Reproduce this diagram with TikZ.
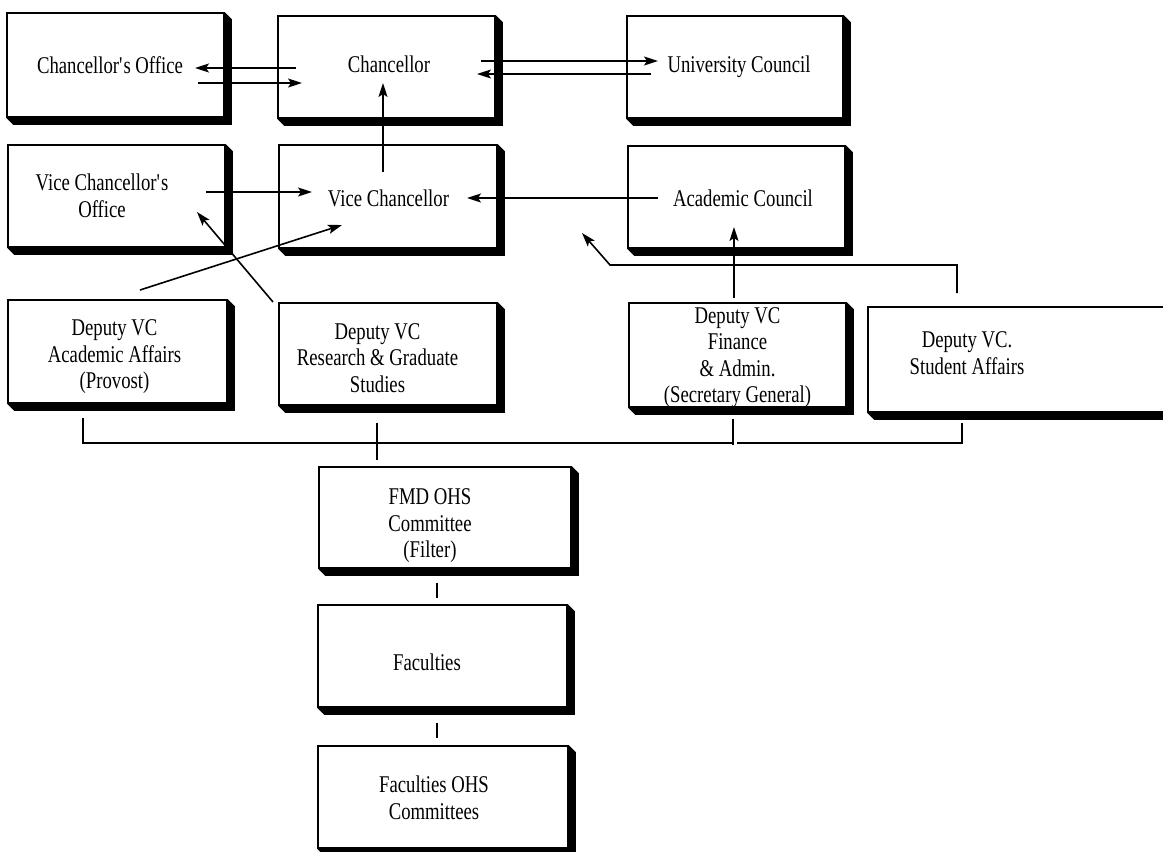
\documentclass[tikz,border=0pt]{standalone}
\usepackage{fontspec}
\setmainfont{Liberation Serif}[FakeStretch=0.78]
\usetikzlibrary{calc,arrows.meta}
\begin{document}
\begin{tikzpicture}[x=1pt,y=-1pt,
  box/.style={draw=black, line width=1.6pt, fill=white, inner sep=0pt},
  txt/.style={align=center, inner sep=0pt, font=\fontsize{24}{26.5}\selectfont},
  conn/.style={line width=1.4pt},
  arr/.style={line width=1.6pt, -{Stealth[length=14pt,width=9pt,inset=3pt]}}]
\useasboundingbox (0,0) rectangle (1163,852);
% boxes
\node[box, minimum width=217pt, minimum height=104pt] (co) at (115.5,65) {};
\node[box, minimum width=217pt, minimum height=102pt] (ch) at (386.5,67) {};
\node[box, minimum width=216pt, minimum height=102pt] (uc) at (735,67) {};
\node[box, minimum width=217pt, minimum height=102pt] (vco) at (116.5,196) {};
\node[box, minimum width=218pt, minimum height=103pt] (vc) at (388,196.5) {};
\node[box, minimum width=217pt, minimum height=102pt] (ac) at (736.5,197) {};
\node[box, minimum width=219pt, minimum height=103pt] (d1) at (117.5,351.5) {};
\node[box, minimum width=218pt, minimum height=102pt] (d2) at (388,354) {};
\node[box, minimum width=217pt, minimum height=104pt] (d3) at (737.5,355) {};
\node[box, minimum width=307pt, minimum height=105pt] (d4) at (1021.5,359.5) {};
\node[box, minimum width=252pt, minimum height=101pt] (fmd) at (445,517.5) {};
\node[box, minimum width=249pt, minimum height=102pt] (fac) at (442.5,656) {};
\node[box, minimum width=250pt, minimum height=102pt] (foc) at (443,797) {};
% shadows
\foreach \n in {co,ch,uc,vco,vc,ac,d1,d2,d3,d4,fmd,fac,foc}{
  \fill[black] (\n.north east) -- ++(7,7) -- ($(\n.south east)+(7,7)$)
     -- ($(\n.south west)+(7,7)$) -- (\n.south west) -- (\n.south east) -- cycle;
}
% texts
\node[txt] (cot) at (110,65) {Chancellor\textquotesingle s Office};
\node[txt] (cht) at (389,64) {Chancellor};
\node[txt] (uct) at (739,67) {University Council};
\node[txt] (vcot) at (102,196) {Vice Chancellor\textquotesingle s\\Office};
\node[txt] (vct) at (388.5,198) {Vice Chancellor};
\node[txt] (act) at (743,198) {Academic Council};
\node[txt] (d1t) at (114.5,357) {Deputy VC\\Academic Affairs\\(Provost)};
\node[txt] (d2t) at (377.5,358) {Deputy VC\\Research \& Graduate\\Studies};
\node[txt] (d3t) at (737.5,357.5) {Deputy VC\\Finance\\\& Admin.\\(Secretary General)};
\node[txt] (d4t) at (967,353) {Deputy VC.\\Student Affairs};
\node[txt] (fmdt) at (430,526) {FMD OHS\\Committee\\(Filter)};
\node[txt] (fact) at (427,662) {Faculties};
\node[txt] (foct) at (434,798) {Faculties OHS\\Committees};
% connectors
\draw[arr] ($(ch)+(-90.5,1)$) -- ($(co)+(79.5,3)$);
\draw[arr] ($(co)+(82.5,18)$) -- ($(ch)+(-84.5,16)$);
\draw[arr] ($(ch)+(94.5,-6)$) -- ($(uc)+(-77,-6)$);
\draw[arr] ($(uc)+(-84,7)$) -- ($(ch)+(90.5,7)$);
\draw[arr] ($(vc)+(-5,-24.5)$) -- ($(ch)+(-3.5,16)$);
\draw[arr] ($(vco)+(89.5,-4)$) -- ($(vc)+(-76,-4.5)$);
\draw[arr] ($(ac)+(-78.5,1)$) -- ($(vc)+(79,1.5)$);
\draw[arr] ($(d1)+(22.5,-61.5)$) -- ($(vc)+(-46,28.5)$);
\draw[arr] ($(d2)+(-115,-52)$) -- ($(vco)+(80.5,16)$);
\draw[arr] ($(d4)+(-64.5,-66.5)$) -- ++(0,-28) -- ++(-347,0) -- ($(vc)+(194,36.5)$);
\draw[arr] ($(d3)+(-3.5,-57)$) -- ($(ac)+(-2.5,30)$);
% bus
\draw[conn] ($(d1)+(-34.5,66.5)$) -- ++(0,25) -- ($(d3)+(-5.5,88)$);
\draw[conn] ($(d3)+(-0.5,88)$) -| ($(d4)+(-59.5,63.5)$);
\draw[conn] ($(d2)+(-11,69)$) -- ($(fmd)+(-68,-57.5)$);
\draw[conn] ($(d3)+(-4.5,64)$) -- ($(d3)+(-4.5,90)$);
\draw[conn] ($(fmd)+(-8,65.5)$) -- ($(fac)+(-5.5,-58)$);
\draw[conn] ($(fac)+(-5.5,67)$) -- ($(foc)+(-6,-59)$);
\end{tikzpicture}
\end{document}
